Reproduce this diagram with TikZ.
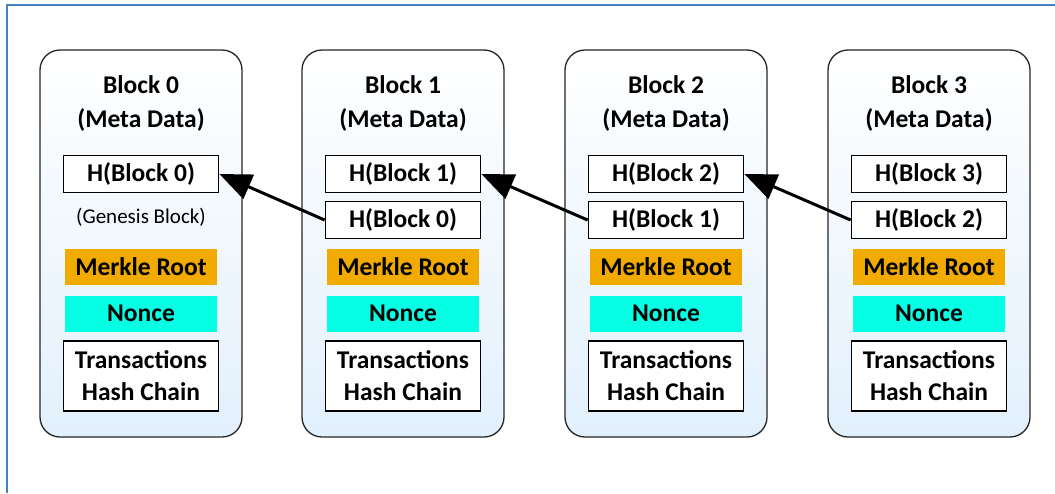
\documentclass[tikz,border=0pt]{standalone}
\usepackage{fontspec}
\setmainfont{Carlito}
\usetikzlibrary{arrows.meta}
\definecolor{framecol}{RGB}{70,130,190}
\definecolor{blockbot}{RGB}{226,240,252}
\definecolor{merkle}{RGB}{240,170,0}
\definecolor{noncecol}{RGB}{5,255,228}
\newcommand\labelfont{\fontsize{25.5}{34}\selectfont\bfseries}
\tikzset{
  blockbox/.style={draw=black!85, line width=1.3pt, rounded corners=20pt,
    top color=white, bottom color=blockbot, minimum width=202pt, minimum height=387pt, inner sep=0pt},
  title/.style={font=\labelfont, align=center},
  hashbox/.style={draw=black, line width=1.8pt, fill=white, minimum width=155pt, minimum height=37pt,
    inner sep=0pt, font=\labelfont},
  merklebox/.style={fill=merkle, minimum width=152pt, minimum height=36pt, inner sep=0pt,
    font=\labelfont},
  noncebox/.style={fill=noncecol, minimum width=152pt, minimum height=36pt, inner sep=0pt,
    font=\labelfont},
  txbox/.style={draw=black, line width=1.8pt, fill=white, minimum width=155pt, minimum height=70pt,
    inner sep=0pt, align=center, font=\fontsize{25.5}{32}\selectfont\bfseries},
  genesis/.style={font=\fontsize{21}{24}\selectfont},
  link/.style={line width=3pt, -{Triangle[length=32pt,width=26pt]}}
}
\begin{document}
\begin{tikzpicture}[x=1pt,y=-1pt]
  \useasboundingbox (0,0) rectangle (1055,493);
  \fill[white] (0,0) rectangle (1055,493);
  % outer frame: top and left edges only
  \draw[framecol, line width=1.2pt] (1055,5) -- (7,5) -- (7,493);
  \foreach \i/\x in {0/141,1/403,2/666,3/929}{
    \node[blockbox] (blk\i) at (\x,243.5) {};
    \node[title] (ttl\i) at (\x,103) {Block \i\\(Meta Data)};
    \node[hashbox] (own\i) at (\x,174) {H(Block \i)};
    \node[merklebox] (mrk\i) at (\x,266.5) {Merkle Root};
    \node[noncebox] (non\i) at (\x,313.5) {Nonce};
    \node[txbox] (txs\i) at (\x,376) {Transactions\\Hash Chain};
  }
  \node[genesis] (gen) at (141,217) {(Genesis Block)};
  \foreach \i/\j/\x in {1/0/403,2/1/666,3/2/929}{
    \node[hashbox] (prv\i) at (\x,220) {H(Block \j)};
    \draw[link] (prv\i.west) -- (own\j.east);
  }
\end{tikzpicture}
\end{document}
